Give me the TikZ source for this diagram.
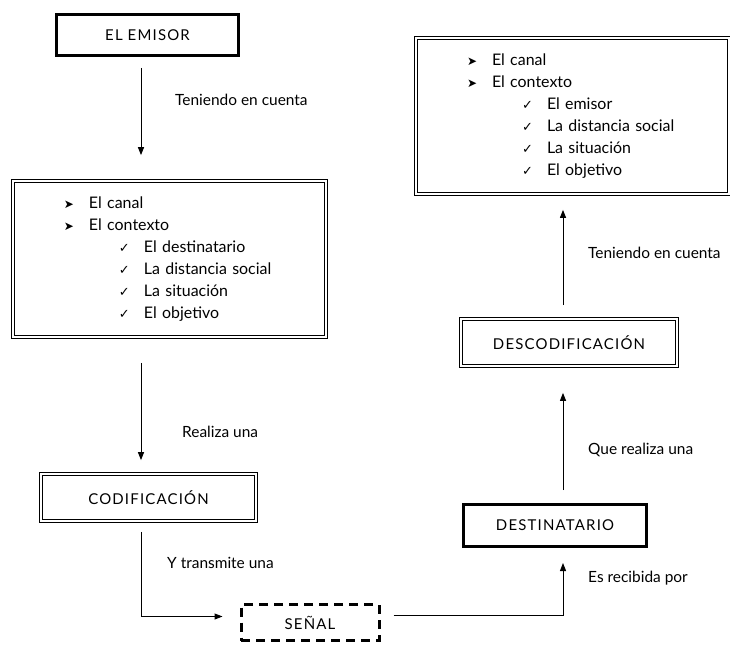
\documentclass[tikz,border=0pt]{standalone}
\usepackage{fontspec}
\setmainfont{Lato}
\newfontfamily\simbolos{DejaVu Sans}
\usepackage{tikz}
\usetikzlibrary{arrows.meta}

\newcommand{\flechita}{\makebox[25bp][l]{\simbolos\fontsize{12}{12}\selectfont ➤}}
\newcommand{\visto}{\makebox[25bp][l]{\simbolos\fontsize{13}{13}\selectfont ✓}}
\newcommand{\puntoA}[1]{\hspace*{51bp}\flechita #1}
\newcommand{\puntoB}[1]{\hspace*{106bp}\visto #1}

\begin{document}
\begin{tikzpicture}[x=1bp, y=-1bp,
  caja/.style = {draw, line width=3bp, inner sep=0pt},
  triple/.style = {draw, double, double distance=1.3bp, line width=1.7bp, inner sep=0pt},
  lista/.style = {triple, text width=313bp, minimum height=156bp, align=left,
                  font=\fontsize{16}{22}\selectfont},
  mayus/.style = {font=\fontsize{15}{15}\selectfont\addfontfeature{LetterSpace=8}},
  etiqueta/.style = {anchor=west, inner sep=0pt, font=\fontsize{15.5}{15.5}\selectfont},
  flecha/.style = {line width=1bp, -{Triangle[length=8bp,width=6bp]}}]

\useasboundingbox (0,0) rectangle (730,645);

%% ejes verticales de las flechas
\coordinate (ejeIzq) at (141,0);
\coordinate (ejeDer) at (563,0);

%% columna izquierda
\node[caja, mayus, minimum width=182bp, minimum height=41bp] (emisor) at (147.5,35) {EL EMISOR};

\node[lista] (lista1) at (169.5,259) {%
  \puntoA{El canal}\\
  \puntoA{El contexto}\\
  \puntoB{El destinatario}\\
  \puntoB{La distancia social}\\
  \puntoB{La situación}\\
  \puntoB{El objetivo}};

\node[triple, mayus, minimum width=215bp, minimum height=47bp] (codif) at (148.5,497.5) {CODIFICACIÓN};

%% señal
\node[draw, dashed, dash pattern=on 9bp off 6bp, line width=3bp, mayus,
      minimum width=138bp, minimum height=36bp] (senal) at (310,622.5) {SEÑAL};

%% columna derecha
\node[caja, mayus, minimum width=183bp, minimum height=42bp] (destino) at (555,525.5) {DESTINATARIO};

\node[triple, mayus, minimum width=216bp, minimum height=47bp] (descod) at (569,342.5) {DESCODIFICACIÓN};

\node[lista] (lista2) at (572.5,116) {%
  \puntoA{El canal}\\
  \puntoA{El contexto}\\
  \puntoB{El emisor}\\
  \puntoB{La distancia social}\\
  \puntoB{La situación}\\
  \puntoB{El objetivo}};

%% flechas
\draw[flecha, shorten <=11bp, shorten >=25bp] (emisor.south -| ejeIzq) -- (lista1.north -| ejeIzq);
\draw[flecha, shorten <=25bp, shorten >=13bp] (lista1.south -| ejeIzq) -- (codif.north -| ejeIzq);
\draw[flecha, shorten <=10bp, shorten >=17bp] (codif.south -| ejeIzq) |- ([yshift=6bp]senal.west);
\draw[flecha, shorten <=13bp, shorten >=15bp] ([yshift=7bp]senal.east) -| (destino.south -| ejeDer);
\draw[flecha, shorten <=13bp, shorten >=26bp] (destino.north -| ejeDer) -- (descod.south -| ejeDer);
\draw[flecha, shorten <=13bp, shorten >=15bp] (descod.north -| ejeDer) -- (lista2.south -| ejeDer);

%% textos de las flechas
\node[etiqueta] (t1) at (175,100) {Teniendo en cuenta};
\node[etiqueta] (t2) at (182,432) {Realiza una};
\node[etiqueta] (t3) at (167,563) {Y transmite una};
\node[etiqueta] (t4) at (588,578) {Es recibida por};
\node[etiqueta] (t5) at (588,450) {Que realiza una};
\node[etiqueta] (t6) at (588,253) {Teniendo en cuenta};
\end{tikzpicture}
\end{document}
